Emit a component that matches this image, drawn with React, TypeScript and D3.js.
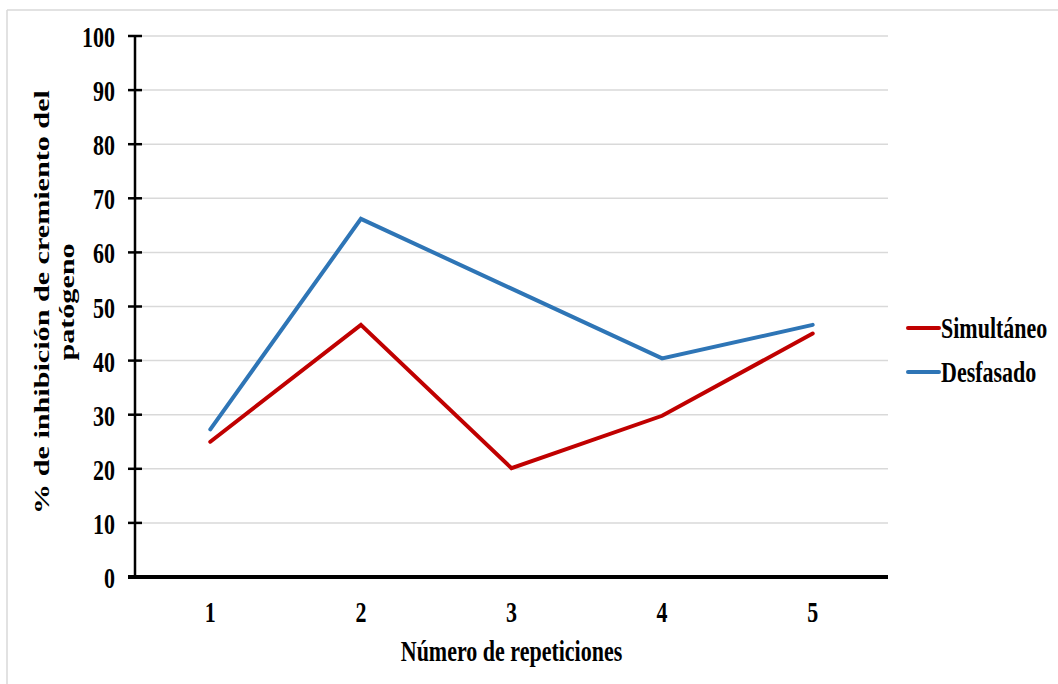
import React from "react";
import * as d3 from "d3";

const categories = ["1", "2", "3", "4", "5"];
const simultaneo = [25.0, 46.6, 20.1, 29.8, 45.0];
const desfasado = [27.3, 66.2, 53.3, 40.4, 46.6];
const yTicks = [0, 10, 20, 30, 40, 50, 60, 70, 80, 90, 100];
const seriesNames = ["Simultáneo", "Desfasado"];
const seriesColors = ["#c00000", "#2e75b6"];
const yTitleLines = ["% de inhibición de cremiento del", "patógeno"];
const xTitle = "Número de repeticiones";

const W = 1058;
const H = 684;
const left = 135;
const right = 888;
const top = 36;
const bottom = 577;
const SY = 1.32;
const FONT = "'Liberation Serif', 'Times New Roman', serif";

export default function App() {
  const x = d3.scaleBand<string>().domain(categories).range([left, right]).padding(0);
  const y = d3.scaleLinear().domain([0, 100]).range([bottom, top]);
  const cx = (c: string) => (x(c) as number) + x.bandwidth() / 2;
  const line = d3
    .line<number>()
    .x((_, i) => cx(categories[i]))
    .y((v) => y(v));
  const series = [simultaneo, desfasado];

  const txt = (
    key: string,
    tx: number,
    ty: number,
    s: string,
    anchor: string,
    rotate = false,
    sy = SY
  ) => (
    <text
      key={key}
      transform={`translate(${tx},${ty}) scale(1,${sy})${rotate ? " rotate(-90)" : ""}`}
      textAnchor={anchor}
      fontFamily={FONT}
      fontWeight="bold"
      fontSize={22}
      fill="#000"
    >
      {s}
    </text>
  );

  return (
    <svg
      width={W}
      height={H}
      style={{ position: "absolute", left: 0, top: 0, background: "#fff" }}
    >
      <rect x={0} y={0} width={W} height={H} fill="#fff" />
      {/* outer border (top & left) */}
      <line x1={7} y1={10} x2={W} y2={10} stroke="#d9d9d9" strokeWidth={1.5} />
      <line x1={7} y1={10} x2={7} y2={H} stroke="#d9d9d9" strokeWidth={1.5} />

      {/* gridlines */}
      {yTicks
        .filter((t) => t !== 0)
        .map((t) => (
          <line
            key={"g" + t}
            x1={left}
            x2={right}
            y1={y(t)}
            y2={y(t)}
            stroke="#d9d9d9"
            strokeWidth={1.5}
          />
        ))}

      {/* y axis */}
      <line x1={left} x2={left} y1={top} y2={bottom} stroke="#000" strokeWidth={2.5} />
      {yTicks.map((t) => (
        <line
          key={"t" + t}
          x1={left - 7}
          x2={left + 7}
          y1={y(t)}
          y2={y(t)}
          stroke="#000"
          strokeWidth={2.5}
        />
      ))}
      {yTicks.map((t) => txt("yl" + t, 115, y(t) + 11, String(t), "end"))}

      {/* x axis */}
      <line x1={left - 7} x2={right} y1={bottom} y2={bottom} stroke="#000" strokeWidth={4} />
      {categories.map((c) => txt("xl" + c, cx(c), 622, c, "middle"))}

      {/* series */}
      {series.map((s, i) => (
        <path
          key={"s" + i}
          d={line(s) as string}
          fill="none"
          stroke={seriesColors[i]}
          strokeWidth={4}
          strokeLinecap="round"
          strokeLinejoin="miter"
        />
      ))}

      {/* titles */}
      {txt("xt", (left + right) / 2, 661, xTitle, "middle")}
      {txt("yt1", 49, 302, yTitleLines[0], "middle", true, 1.37)}
      {txt("yt2", 74, 302, yTitleLines[1], "middle", true, 1.37)}

      {/* legend */}
      {seriesNames.map((n, i) => (
        <g key={"lg" + i}>
          <line
            x1={908}
            x2={939}
            y1={328 + i * 44}
            y2={328 + i * 44}
            stroke={seriesColors[i]}
            strokeWidth={4}
            strokeLinecap="round"
          />
          {txt("lt" + i, 941, 338 + i * 44, n, "start")}
        </g>
      ))}
    </svg>
  );
}
